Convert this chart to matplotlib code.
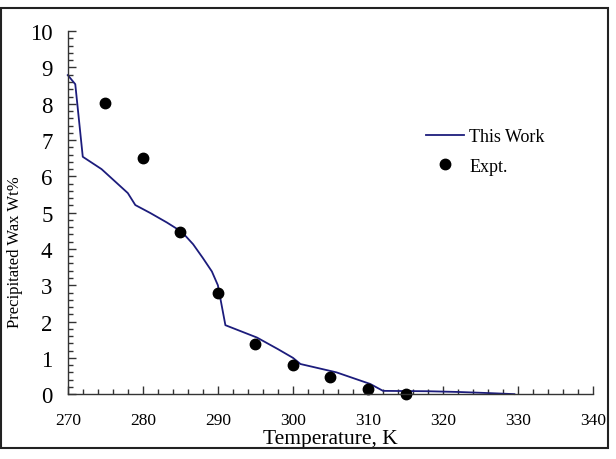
import matplotlib
matplotlib.use('Agg')
import matplotlib.pyplot as plt
from matplotlib.patches import Rectangle
from matplotlib.ticker import MultipleLocator

plt.rcParams['font.family'] = ['Liberation Serif', 'DejaVu Serif']

# model curve (This Work)
temp_model = [270, 271, 272, 274.5, 278, 279, 281, 283.2, 285.2, 286.7, 288, 289.2, 290, 291,
              295.2, 298, 300, 301, 305.8, 310.3, 312, 318, 322, 326, 329.5]
wax_model = [8.79, 8.54, 6.54, 6.2, 5.54, 5.21, 4.99, 4.73, 4.47, 4.13, 3.75, 3.38, 3.0, 1.9,
             1.56, 1.24, 1.0, 0.83, 0.6, 0.28, 0.09, 0.08, 0.06, 0.03, 0.0]

# experimental points
temp_expt = [275, 280, 285, 290, 295, 300, 305, 310, 315]
wax_expt = [8.03, 6.5, 4.47, 2.8, 1.38, 0.8, 0.48, 0.13, 0.0]

fig = plt.figure(figsize=(6.16, 4.6), dpi=100)
ax = fig.add_axes([0.110, 0.141, 0.853, 0.789])

ax.plot(temp_model, wax_model, color='#1c1c7c', lw=1.3, label='This Work', clip_on=False)
ax.plot(temp_expt, wax_expt, 'o', color='black', ms=7.5, label='Expt.', clip_on=False)

ax.set_xlim(270, 340)
ax.set_ylim(0, 10)
ax.xaxis.set_major_locator(MultipleLocator(10))
ax.xaxis.set_minor_locator(MultipleLocator(2))
ax.yaxis.set_major_locator(MultipleLocator(1))
ax.yaxis.set_minor_locator(MultipleLocator(0.2))

for s in ['top', 'right']:
    ax.spines[s].set_visible(False)
for s in ['left', 'bottom']:
    ax.spines[s].set_color('#333333')
    ax.spines[s].set_linewidth(1.0)

ax.tick_params(axis='x', which='major', direction='in', length=6, width=1, pad=13,
               labelsize=12.5, colors='#333333', labelcolor='black')
ax.tick_params(axis='x', which='minor', direction='in', length=3.5, width=1, colors='#333333')
ax.tick_params(axis='y', which='major', direction='in', length=6, width=1, pad=11,
               labelsize=16.5, colors='#333333', labelcolor='black')
ax.tick_params(axis='y', which='minor', direction='in', length=3.5, width=1, colors='#333333')

ax.set_xlabel('Temperature, K', fontsize=15.5, labelpad=0.5)
fig.text(15 / 616, 1 - 252 / 460, 'Precipitated Wax Wt%', rotation=90,
         ha='center', va='center', fontsize=12)

ax.legend(loc='center left', bbox_to_anchor=(0.682, 0.669), frameon=False,
          borderpad=0, borderaxespad=0,
          fontsize=13, handlelength=2.1, handletextpad=0.3, labelspacing=0.7)

fig.patches.append(Rectangle((0.5 / 616, 1 - 449 / 460), 607 / 616, 440 / 460,
                             transform=fig.transFigure, fill=False,
                             edgecolor='#222222', lw=1.5))

fig.savefig('out.png', dpi=100)
